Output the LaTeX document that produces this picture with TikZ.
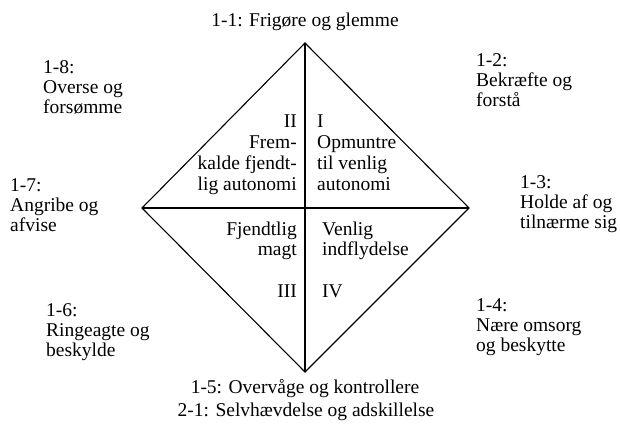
\documentclass[tikz,border=0pt]{standalone}
\usepackage{fontspec}
\setmainfont{Liberation Serif}
\usetikzlibrary{positioning}

\begin{document}
\begin{tikzpicture}[x=1pt, y=-1pt,
    every node/.style={inner sep=0pt, font=\fontsize{19.5}{20}\selectfont},
    lbl/.style={anchor=base west, align=left},
    rlbl/.style={anchor=base east, align=right},
    mid/.style={anchor=base, align=center},
    quad/.style={font=\fontsize{19.5}{21}\selectfont},
    axis/.style={line width=1.1pt}]
    \useasboundingbox (0,0) rectangle (620,427);
    % diamond corners
    \coordinate (top) at (305,43);
    \coordinate (bot) at (305,372);
    \coordinate (lft) at (142,208);
    \coordinate (rgt) at (469,208);
    \draw[axis] (top) -- (rgt) -- (bot) -- (lft) -- cycle;
    \draw[axis] (top) -- (bot);
    \draw[axis] (lft) -- (rgt);
    % outer labels (base = last line)
    \node[mid] (l11) at (305,27) {1-1: Frigøre og glemme};
    \node[lbl] (l12) at (476,107) {1-2:\\Bekræfte og\\forstå};
    \node[lbl] (l13) at (520,229) {1-3:\\Holde af og\\tilnærme sig};
    \node[lbl] (l14) at (476,351) {1-4:\\Nære omsorg\\og beskytte};
    \node[mid] (l15) at (305,393) {1-5: Overvåge og kontrollere};
    \node[mid] (l21) at (306,416) {2-1: Selvhævdelse og adskillelse};
    \node[lbl] (l16) at (46,356) {1-6:\\Ringeagte og\\beskylde};
    \node[lbl] (l17) at (10,232) {1-7:\\Angribe og\\afvise};
    \node[lbl] (l18) at (43,114) {1-8:\\Overse og\\forsømme};
    % quadrants
    \node[lbl, quad] (q1) at (317,191) {I\\Opmuntre\\til venlig\\autonomi};
    \node[rlbl, quad] (q2) at (297,191) {II\\Frem-\\kalde fjendt-\\lig autonomi};
    \node[rlbl] (q3) at (297,255) {Fjendtlig\\magt};
    \node[rlbl] (q3n) at (297,297) {III};
    \node[lbl] (q4) at (322,255) {Venlig\\indflydelse};
    \node[lbl] (q4n) at (322,297) {IV};
\end{tikzpicture}
\end{document}
